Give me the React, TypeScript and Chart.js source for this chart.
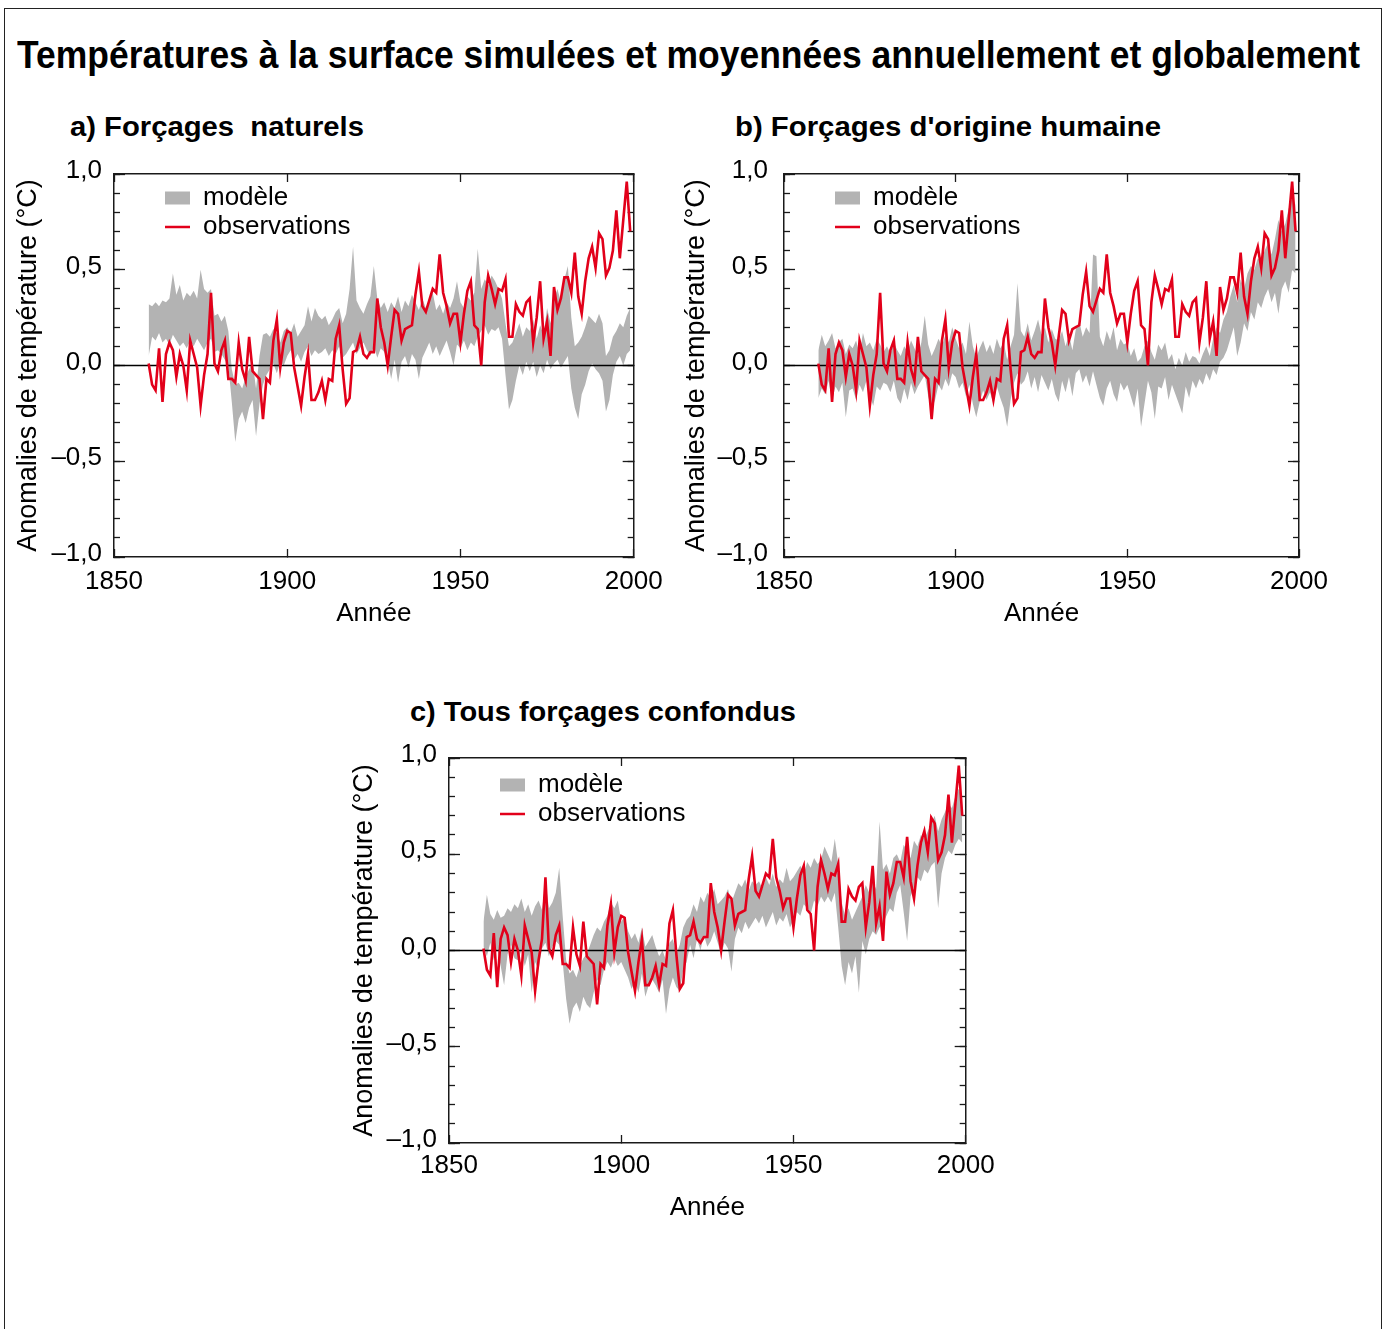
import React, { useEffect, useLayoutEffect, useRef } from 'react';
import { Chart, registerables } from 'chart.js';

Chart.register(...registerables);

const FONT = '"Liberation Sans", Arial, Helvetica, sans-serif';
const RED = '#e2001a';
const GRAY = '#b3b3b3';
const INK = '#1a1a1a';

// ---- data (annual values, 1860 .. 1999) ----
const START_YEAR = 1860;

const OBS = [
  0.01, -0.10, -0.13, 0.09, -0.19, 0.06, 0.12, 0.08, -0.06, 0.06,
  0.00, -0.13, 0.13, 0.06, -0.01, -0.21, -0.05, 0.06, 0.38, 0.01,
  -0.03, 0.08, 0.13, -0.07, -0.07, -0.09, 0.12, -0.02, -0.08, 0.15,
  -0.03, -0.05, -0.07, -0.28, -0.07, -0.09, 0.13, 0.24, -0.01, 0.12,
  0.18, 0.17, -0.01, -0.11, -0.21, -0.06, 0.06, -0.18, -0.18, -0.14,
  -0.08, -0.18, -0.07, -0.08, 0.14, 0.21, -0.02, -0.20, -0.17, 0.07,
  0.08, 0.15, 0.06, 0.04, 0.07, 0.07, 0.35, 0.20, 0.12, 0.00,
  0.15, 0.29, 0.27, 0.13, 0.19, 0.20, 0.21, 0.37, 0.49, 0.31,
  0.28, 0.34, 0.40, 0.38, 0.58, 0.38, 0.31, 0.22, 0.27, 0.27,
  0.12, 0.27, 0.39, 0.44, 0.21, 0.19, 0.00, 0.33, 0.47, 0.40,
  0.32, 0.40, 0.39, 0.45, 0.15, 0.15, 0.32, 0.28, 0.26, 0.33,
  0.35, 0.12, 0.25, 0.44, 0.14, 0.23, 0.05, 0.41, 0.29, 0.35,
  0.46, 0.46, 0.38, 0.59, 0.36, 0.27, 0.44, 0.56, 0.62, 0.51,
  0.69, 0.66, 0.47, 0.51, 0.60, 0.81, 0.56, 0.76, 0.96, 0.70,
];

// a) natural forcings: model range
const NAT_HI = [
  0.32, 0.31, 0.33, 0.31, 0.34, 0.33, 0.35, 0.48, 0.37, 0.42,
  0.34, 0.38, 0.36, 0.39, 0.35, 0.50, 0.40, 0.38, 0.40, 0.26,
  0.27, 0.23, 0.26, 0.18, -0.02, -0.10, -0.09, -0.12, -0.06, -0.02,
  0.02, -0.12, 0.05, 0.16, 0.17, 0.15, 0.19, 0.17, 0.12, 0.18,
  0.20, 0.17, 0.22, 0.15, 0.18, 0.21, 0.31, 0.23, 0.30, 0.26,
  0.24, 0.26, 0.21, 0.24, 0.28, 0.30, 0.22, 0.27, 0.40, 0.62,
  0.34, 0.30, 0.27, 0.32, 0.36, 0.52, 0.35, 0.30, 0.33, 0.28,
  0.33, 0.30, 0.36, 0.28, 0.34, 0.31, 0.37, 0.33, 0.29, 0.35,
  0.30, 0.34, 0.38, 0.29, 0.32, 0.27, 0.33, 0.30, 0.35, 0.44,
  0.33, 0.30, 0.36, 0.34, 0.38, 0.61, 0.40, 0.45, 0.42, 0.47,
  0.44, 0.40, 0.35, 0.22, 0.10, 0.12, 0.17, 0.22, 0.15, 0.20,
  0.18, 0.24, 0.14, 0.21, 0.16, 0.30, 0.22, 0.35, 0.40, 0.33,
  0.45, 0.52, 0.25, 0.10, 0.12, 0.15, 0.20, 0.26, 0.24, 0.22,
  0.27, 0.22, 0.05, 0.08, 0.15, 0.18, 0.22, 0.20, 0.26, 0.30,
];
const NAT_LO = [
  0.05, 0.15, 0.13, 0.17, 0.12, 0.14, 0.11, 0.16, 0.13, 0.10,
  0.12, 0.09, 0.13, 0.10, 0.14, 0.11, 0.08, 0.12, 0.14, 0.07,
  0.08, 0.06, 0.03, 0.00, -0.19, -0.40, -0.28, -0.24, -0.30, -0.22,
  -0.18, -0.37, -0.20, -0.10, -0.05, -0.02, 0.01, -0.04, 0.02, 0.00,
  0.05, 0.08, 0.03, 0.06, 0.02, 0.07, 0.10, 0.05, 0.08, 0.06,
  0.07, 0.09, 0.05, 0.08, 0.06, 0.10, 0.04, 0.06, 0.09, 0.12,
  0.06, 0.09, 0.12, 0.08, 0.05, 0.10, 0.04, 0.09, 0.07, 0.03,
  -0.07, 0.03, -0.09, 0.02, 0.05, -0.01, 0.06, 0.03, -0.07, 0.04,
  0.08, 0.12, 0.06, 0.10, 0.05, 0.09, 0.13, 0.07, 0.00, 0.11,
  0.09, 0.13, 0.08, 0.12, 0.10, 0.15, 0.18, 0.21, 0.16, 0.19,
  0.18, 0.20, 0.14, -0.05, -0.23, -0.18, -0.08, 0.00, -0.05, 0.02,
  -0.03, 0.02, -0.06, 0.00, -0.04, 0.03, -0.02, 0.01, 0.03, -0.01,
  0.02, 0.05, -0.12, -0.22, -0.28, -0.15, -0.10, -0.03, 0.01, -0.02,
  -0.04, -0.08, -0.24, -0.18, -0.05, 0.02, 0.05, 0.00, 0.06, 0.08,
];

// b) anthropogenic forcings: model range
const ANT_HI = [
  0.08, 0.16, 0.10, 0.13, 0.17, 0.09, 0.12, 0.14, 0.06, 0.11,
  0.09, 0.13, 0.06, 0.17, 0.10, 0.12, 0.08, 0.14, 0.11, 0.07,
  0.10, 0.06, 0.12, 0.08, 0.05, 0.10, 0.07, 0.13, 0.09, 0.05,
  0.12, 0.26, 0.11, 0.05, 0.09, 0.14, 0.10, 0.16, 0.12, 0.20,
  0.14, 0.09, 0.12, 0.06, 0.23, 0.10, 0.04, 0.09, 0.13, 0.07,
  0.11, 0.06, 0.14, 0.09, 0.12, 0.03, 0.10, 0.16, 0.43, 0.18,
  0.15, 0.22, 0.13, 0.18, 0.24, 0.16, 0.20, 0.12, 0.19, 0.14,
  0.13, 0.18, 0.10, 0.16, 0.08, 0.19, 0.23, 0.15, 0.20, 0.17,
  0.58, 0.57, 0.15, 0.10, 0.18, 0.13, 0.20, 0.08, 0.14, 0.11,
  0.12, 0.05, 0.09, 0.02, 0.04, 0.10, 0.13, 0.07, 0.03, 0.11,
  0.08, 0.12, 0.03, 0.06, -0.02, 0.04, 0.00, 0.07, 0.02, 0.05,
  0.04, 0.01, 0.06, 0.10, 0.05, 0.14, 0.20, 0.17, 0.24, 0.28,
  0.36, 0.42, 0.33, 0.45, 0.40, 0.48, 0.52, 0.50, 0.56, 0.54,
  0.60, 0.64, 0.58, 0.66, 0.76, 0.70, 0.74, 0.82, 0.88, 0.84,
];
const ANT_LO = [
  -0.17, -0.12, -0.15, -0.08, -0.18, -0.11, -0.14, -0.09, -0.27, -0.13,
  -0.12, -0.18, -0.10, -0.14, -0.08, -0.16, -0.21, -0.11, -0.13, -0.09,
  -0.10, -0.14, -0.08, -0.17, -0.20, -0.12, -0.18, -0.09, -0.15, -0.11,
  -0.08, -0.05, -0.16, -0.23, -0.18, -0.10, -0.13, -0.07, -0.11, -0.04,
  -0.06, -0.12, -0.09, -0.16, -0.10, -0.20, -0.27, -0.19, -0.13, -0.18,
  -0.14, -0.20, -0.11, -0.17, -0.22, -0.32, -0.18, -0.09, -0.04, -0.10,
  -0.08, -0.03, -0.12, -0.06, -0.14, -0.05, -0.09, -0.13, -0.07, -0.15,
  -0.19, -0.08, -0.14, -0.06, -0.16, -0.04, -0.02, -0.09, -0.05, -0.11,
  -0.03, -0.10, -0.17, -0.21, -0.12, -0.08, -0.15, -0.19, -0.09, -0.13,
  -0.10, -0.16, -0.22, -0.12, -0.32, -0.20, -0.08, -0.14, -0.28, -0.11,
  -0.12, -0.06, -0.18, -0.10, -0.15, -0.20, -0.25, -0.11, -0.17, -0.08,
  -0.12, -0.07, -0.10, -0.04, -0.08, -0.02, -0.05, 0.02, 0.04, 0.08,
  0.14, 0.20, 0.05, 0.12, 0.22, 0.18, 0.28, 0.24, 0.33, 0.30,
  0.36, 0.40, 0.33, 0.38, 0.27, 0.40, 0.44, 0.38, 0.50, 0.48,
];

// c) all forcings: model range
const ALL_HI = [
  0.15, 0.29, 0.19, 0.16, 0.21, 0.17, 0.18, 0.22, 0.20, 0.24,
  0.22, 0.27, 0.20, 0.24, 0.18, 0.23, 0.26, 0.21, 0.36, 0.22,
  0.25, 0.30, 0.43, 0.18, -0.05, -0.12, -0.10, -0.14, -0.08, -0.04,
  -0.02, 0.03, 0.08, 0.12, 0.10, 0.15, 0.18, 0.25, 0.22, 0.26,
  0.15, 0.18, 0.10, 0.06, 0.09, 0.04, 0.12, 0.02, 0.05, 0.08,
  0.02, -0.03, 0.00, -0.05, 0.04, 0.06, -0.02, 0.03, 0.12, 0.16,
  0.18, 0.24, 0.20, 0.28, 0.25, 0.30, 0.27, 0.32, 0.24, 0.26,
  0.28, 0.32, 0.25, 0.30, 0.35, 0.33, 0.37, 0.31, 0.36, 0.34,
  0.36, 0.32, 0.38, 0.34, 0.40, 0.33, 0.37, 0.35, 0.43, 0.36,
  0.38, 0.41, 0.44, 0.40, 0.46, 0.43, 0.48, 0.45, 0.47, 0.54,
  0.50, 0.46, 0.58, 0.45, 0.25, 0.18, 0.22, 0.16, 0.20, 0.24,
  0.28, 0.34, 0.30, 0.36, 0.32, 0.67, 0.42, 0.45, 0.40, 0.48,
  0.50, 0.46, 0.55, 0.52, 0.48, 0.57, 0.54, 0.60, 0.58, 0.62,
  0.66, 0.70, 0.62, 0.68, 0.72, 0.76, 0.74, 0.80, 0.84, 0.78,
];
const ALL_LO = [
  0.02, -0.03, 0.04, -0.05, 0.01, -0.08, -0.18, -0.02, 0.03, -0.04,
  -0.05, 0.00, -0.08, -0.02, -0.22, -0.06, -0.10, 0.01, 0.04, -0.03,
  0.02, 0.05, 0.03, -0.06, -0.25, -0.38, -0.30, -0.27, -0.32, -0.24,
  -0.28, -0.30, -0.22, -0.15, -0.18, -0.10, -0.06, -0.09, -0.04, -0.08,
  -0.06, -0.10, -0.14, -0.20, -0.16, -0.22, -0.12, -0.24, -0.18, -0.15,
  -0.18, -0.22, -0.15, -0.33, -0.20, -0.14, -0.19, -0.21, -0.10, -0.06,
  0.03, -0.04, 0.06, 0.00, 0.08, 0.02, 0.05, 0.10, 0.04, -0.02,
  0.04, 0.01, -0.11, 0.06, 0.12, 0.09, 0.15, 0.11, 0.14, 0.17,
  0.14, 0.18, 0.12, 0.16, 0.20, 0.13, 0.17, 0.15, 0.19, 0.12,
  0.16, 0.20, 0.18, 0.24, 0.22, 0.19, 0.26, 0.23, 0.28, 0.25,
  0.28, 0.25, 0.30, 0.12, -0.08, -0.18, -0.06, -0.12, -0.03, -0.22,
  0.05, -0.02, 0.06, 0.10, 0.08, 0.12, 0.14, 0.18, 0.22, 0.20,
  0.30, 0.34, 0.20, 0.05, 0.28, 0.33, 0.38, 0.36, 0.42, 0.40,
  0.44, 0.46, 0.22, 0.40, 0.48, 0.52, 0.50, 0.55, 0.58, 0.56,
];

// axes
const X_MIN = 1850;
const X_MAX = 2000;
const X_TICKS = [1850, 1900, 1950, 2000];
const Y_MIN = -1;
const Y_MAX = 1;
const Y_MAJOR = [-1, -0.5, 0, 0.5, 1];
const Y_MINOR = [-1, -0.9, -0.8, -0.7, -0.6, -0.5, -0.4, -0.3, -0.2, -0.1, 0, 0.1, 0.2, 0.3, 0.4, 0.5, 0.6, 0.7, 0.8, 0.9, 1];
const ZERO_LINE = [0, 0];

// texts
const TITLE = 'Températures à la surface simulées et moyennées annuellement et globalement';
const SUB_A = 'a) Forçages  naturels';
const SUB_B = "b) Forçages d'origine humaine";
const SUB_C = 'c) Tous forçages confondus';
const Y_TITLE = 'Anomalies de température (°C)';
const X_TITLE = 'Année';
const LBL_MODEL = 'modèle';
const LBL_OBS = 'observations';

const toPoints = (arr: number[]) => arr.map((y, i) => ({ x: START_YEAR + i, y }));
const fmtY = (v: number) => v.toFixed(1).replace('.', ',').replace('-', '\u2013');

const insideLegend = {
  id: 'insideLegend',
  afterDraw(chart: any, _args: any, opts: any) {
    const { ctx, chartArea } = chart;
    const ds = chart.data.datasets;
    const x0 = chartArea.left + opts.dx;
    const rows = [
      { kind: 'box', color: ds[2].backgroundColor, text: ds[2].label, dy: opts.dy[0] },
      { kind: 'line', color: ds[0].borderColor, text: ds[0].label, dy: opts.dy[1] },
    ];
    ctx.save();
    ctx.font = `26px ${FONT}`;
    ctx.textBaseline = 'middle';
    ctx.textAlign = 'left';
    rows.forEach((r) => {
      const y = chartArea.top + r.dy;
      if (r.kind === 'box') {
        ctx.fillStyle = r.color;
        ctx.fillRect(x0, y - 6.5, 25, 13);
      } else {
        ctx.strokeStyle = r.color;
        ctx.lineWidth = 2.5;
        ctx.beginPath();
        ctx.moveTo(x0, y);
        ctx.lineTo(x0 + 25, y);
        ctx.stroke();
      }
      ctx.fillStyle = '#000';
      ctx.fillText(r.text, x0 + 38, y);
    });
    ctx.restore();
  },
};

type PanelProps = {
  left: number; top: number; width: number; height: number;
  padLeft: number; padTop: number; padRight: number; padBottom: number;
  yWidth: number; xHeight: number; yLabelPad: number; xLabelPad: number;
  hi: number[]; lo: number[]; legendDy: [number, number];
};

function Panel(p: PanelProps) {
  const ref = useRef<HTMLCanvasElement>(null);
  useEffect(() => {
    const setTicks = (vals: number[]) => (s: any) => { s.ticks = vals.map((value) => ({ value })); };
    const tickFont = { family: FONT, size: 26 };
    const gridInward = (len: number) => ({ drawOnChartArea: false, drawTicks: true, tickLength: len, tickColor: INK, tickWidth: 1.3, color: INK });
    const chart = new Chart(ref.current as HTMLCanvasElement, {
      type: 'line',
      data: {
        datasets: [
          { label: LBL_OBS, data: toPoints(OBS), borderColor: RED, borderWidth: 2.6, pointRadius: 0, fill: false, tension: 0 },
          { label: 'zero', data: ZERO_LINE.map((y, i) => ({ x: i === 0 ? X_MIN : X_MAX, y })), borderColor: '#000', borderWidth: 1.3, pointRadius: 0, fill: false },
          { label: LBL_MODEL, data: toPoints(p.hi), borderColor: 'rgba(0,0,0,0)', backgroundColor: GRAY, borderWidth: 0, pointRadius: 0, fill: '+1', tension: 0 },
          { label: 'min', data: toPoints(p.lo), borderColor: 'rgba(0,0,0,0)', backgroundColor: GRAY, borderWidth: 0, pointRadius: 0, fill: false, tension: 0 },
        ],
      } as any,
      options: {
        responsive: false,
        animation: false,
        events: [],
        layout: { padding: { left: p.padLeft, top: p.padTop, right: p.padRight, bottom: p.padBottom } },
        plugins: {
          legend: { display: false },
          tooltip: { enabled: false },
          insideLegend: { dx: 51, dy: p.legendDy },
        } as any,
        scales: {
          x: {
            type: 'linear', position: 'bottom', min: X_MIN, max: X_MAX, weight: 2,
            afterBuildTicks: setTicks(X_TICKS),
            afterFit: (s: any) => { s.height = p.xHeight; },
            ticks: { callback: (v: any) => String(v), font: tickFont, color: '#000', padding: p.xLabelPad, autoSkip: false, minRotation: 0, maxRotation: 0 },
            grid: gridInward(-8),
            border: { display: true, color: INK, width: 1.5 },
            title: { display: true, text: X_TITLE, font: { family: FONT, size: 26 }, color: '#000', padding: 0 },
          },
          xTop: {
            type: 'linear', position: 'top', min: X_MIN, max: X_MAX, weight: 0,
            afterBuildTicks: setTicks(X_TICKS),
            afterFit: (s: any) => { s.height = 0; },
            ticks: { display: false },
            grid: gridInward(-8),
            border: { display: true, color: INK, width: 1.5 },
          },
          y: {
            type: 'linear', position: 'left', min: Y_MIN, max: Y_MAX, weight: 2,
            afterBuildTicks: setTicks(Y_MAJOR),
            afterFit: (s: any) => { s.width = p.yWidth; },
            ticks: { callback: (v: any) => fmtY(Number(v)), font: tickFont, color: '#000', padding: p.yLabelPad, labelOffset: -3, autoSkip: false },
            grid: gridInward(-11),
            border: { display: true, color: INK, width: 1.5 },
            title: { display: true, text: Y_TITLE, font: { family: FONT, size: 27 }, color: '#000', padding: 0 },
          },
          yMinor: {
            type: 'linear', position: 'left', min: Y_MIN, max: Y_MAX, weight: 0,
            afterBuildTicks: setTicks(Y_MINOR),
            afterFit: (s: any) => { s.width = 0; },
            ticks: { display: false },
            grid: gridInward(-6),
            border: { display: false },
          },
          yRight: {
            type: 'linear', position: 'right', min: Y_MIN, max: Y_MAX, weight: 0,
            afterBuildTicks: setTicks(Y_MAJOR),
            afterFit: (s: any) => { s.width = 0; },
            ticks: { display: false },
            grid: gridInward(-11),
            border: { display: true, color: INK, width: 1.5 },
          },
          yRightMinor: {
            type: 'linear', position: 'right', min: Y_MIN, max: Y_MAX, weight: 1,
            afterBuildTicks: setTicks(Y_MINOR),
            afterFit: (s: any) => { s.width = 0; },
            ticks: { display: false },
            grid: gridInward(-6),
            border: { display: false },
          },
        } as any,
      },
      plugins: [insideLegend as any],
    });
    return () => chart.destroy();
  }, []);
  return (
    <canvas
      ref={ref}
      width={p.width}
      height={p.height}
      style={{ position: 'absolute', left: p.left, top: p.top, width: p.width, height: p.height }}
    />
  );
}

function FitText({ text, left, top, width, size }: { text: string; left: number; top: number; width: number; size: number }) {
  const ref = useRef<HTMLSpanElement>(null);
  useLayoutEffect(() => {
    const el = ref.current as HTMLSpanElement;
    el.style.transform = 'none';
    const w = el.getBoundingClientRect().width;
    if (w > 0) el.style.transform = `scaleX(${width / w})`;
  }, [text, width]);
  return (
    <span
      ref={ref}
      style={{
        position: 'absolute', left, top, fontSize: size, lineHeight: `${size}px`, fontWeight: 'bold',
        whiteSpace: 'pre', display: 'inline-block', transformOrigin: '0 0', color: '#000', fontFamily: FONT,
      }}
    >
      {text}
    </span>
  );
}

export default function App() {
  return (
    <div style={{ position: 'absolute', left: 0, top: 0, width: 1384, height: 1329, overflow: 'hidden', background: '#fff', fontFamily: FONT }}>
      <div style={{ position: 'absolute', left: 4, top: 8, width: 1378, height: 1400, border: '1.5px solid #222', boxSizing: 'border-box' }} />
      <FitText text={TITLE} left={17} top={36} width={1343} size={38} />
      <FitText text={SUB_A} left={70} top={113} width={294} size={28} />
      <FitText text={SUB_B} left={735} top={113} width={426} size={28} />
      <FitText text={SUB_C} left={410} top={698} width={386} size={28} />
      <Panel left={0} top={130} width={680} height={520} padLeft={12} padTop={44} padRight={45} padBottom={21}
        yWidth={102} xHeight={72} yLabelPad={23} xLabelPad={17.4} hi={NAT_HI} lo={NAT_LO} legendDy={[24, 53]} />
      <Panel left={670} top={130} width={700} height={520} padLeft={10} padTop={44} padRight={71} padBottom={21}
        yWidth={104} xHeight={72} yLabelPad={27} xLabelPad={17.4} hi={ANT_HI} lo={ANT_LO} legendDy={[24, 53]} />
      <Panel left={330} top={714} width={680} height={540} padLeft={18} padTop={44} padRight={41} padBottom={31}
        yWidth={101} xHeight={80} yLabelPad={23} xLabelPad={15.4} hi={ALL_HI} lo={ALL_LO} legendDy={[27, 56]} />
    </div>
  );
}
